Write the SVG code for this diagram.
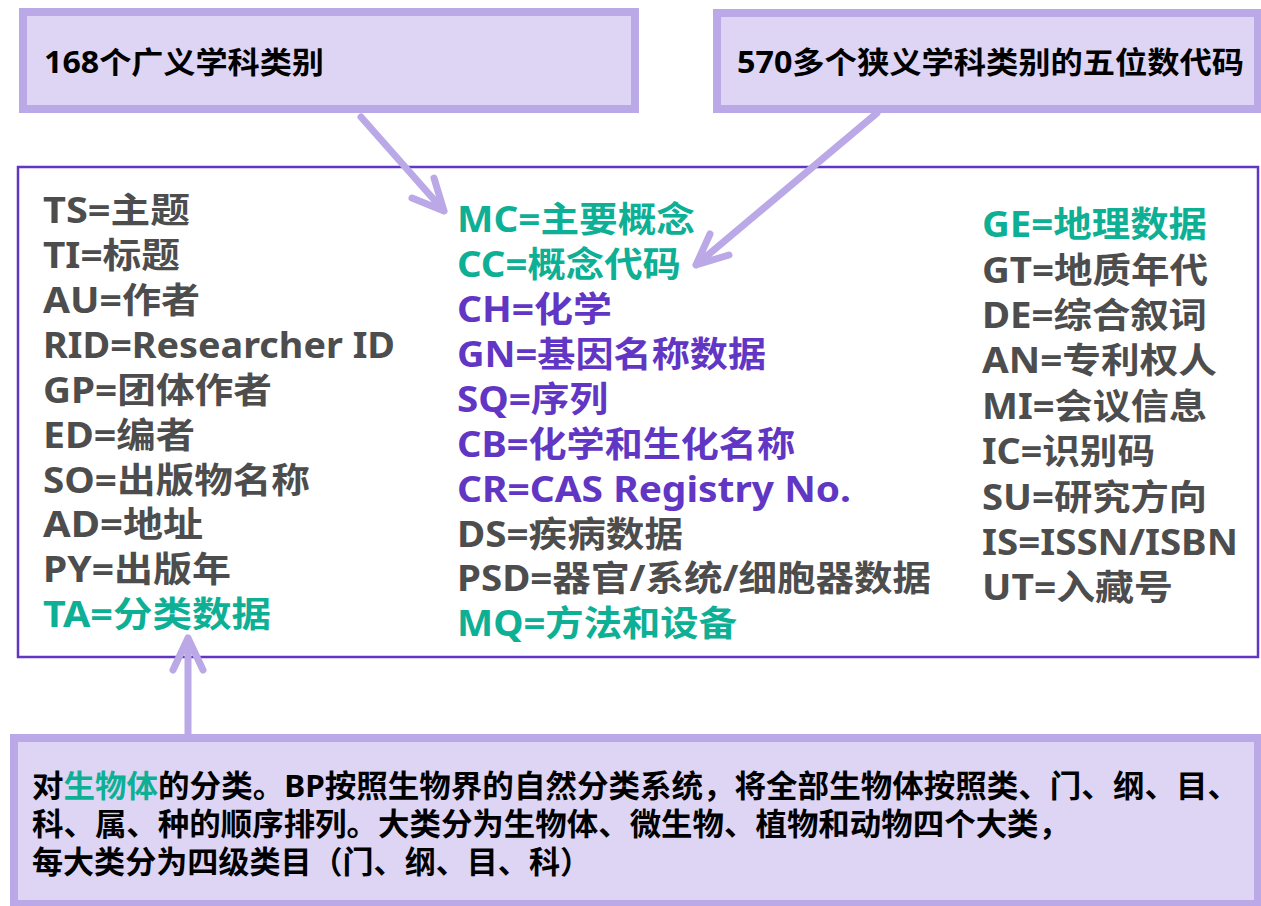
<svg xmlns="http://www.w3.org/2000/svg" width="1261" height="906" viewBox="0 0 1261 906">
<style>
.box{fill:#DDD5F3;stroke:#BBA8E6;stroke-width:8}
.main{fill:#FFFFFF;stroke:#6236C4;stroke-width:2.5}
.t{font-family:"Noto Sans","Noto Sans CJK SC",sans-serif;font-weight:bold}
.k{font-size:35px}
.g{fill:#4D4D4D}
.c{fill:#0DAF95}
.p{fill:#6236C4}
.b{font-size:30px;fill:#000000}
.d{font-size:31px;fill:#000000}
.arr{fill:none;stroke:#BBA8E6;stroke-width:7;stroke-linecap:round;stroke-linejoin:round}
</style>
<rect width="1261" height="906" fill="#FFFFFF"/>
<g id="main-box">
<rect class="main" x="18" y="167" width="1240" height="490"/>
<g id="col-left" class="t k">
<text class="g" x="43" y="223" textLength="147" lengthAdjust="spacingAndGlyphs">TS=主题</text>
<text class="g" x="43" y="268" textLength="137" lengthAdjust="spacingAndGlyphs">TI=标题</text>
<text class="g" x="43" y="313" textLength="157" lengthAdjust="spacingAndGlyphs">AU=作者</text>
<text class="g" x="43" y="358" textLength="352" lengthAdjust="spacingAndGlyphs">RID=Researcher ID</text>
<text class="g" x="43" y="403" textLength="229" lengthAdjust="spacingAndGlyphs">GP=团体作者</text>
<text class="g" x="43" y="448" textLength="152" lengthAdjust="spacingAndGlyphs">ED=编者</text>
<text class="g" x="43" y="493" textLength="267" lengthAdjust="spacingAndGlyphs">SO=出版物名称</text>
<text class="g" x="43" y="537" textLength="160" lengthAdjust="spacingAndGlyphs">AD=地址</text>
<text class="g" x="43" y="582" textLength="188" lengthAdjust="spacingAndGlyphs">PY=出版年</text>
<text class="c" x="43" y="627" textLength="228" lengthAdjust="spacingAndGlyphs">TA=分类数据</text>
</g>
<g id="col-mid" class="t k">
<text class="c" x="457" y="232" textLength="238" lengthAdjust="spacingAndGlyphs">MC=主要概念</text>
<text class="c" x="457" y="277" textLength="224" lengthAdjust="spacingAndGlyphs">CC=概念代码</text>
<text class="p" x="457" y="322" textLength="155" lengthAdjust="spacingAndGlyphs">CH=化学</text>
<text class="p" x="457" y="367" textLength="309" lengthAdjust="spacingAndGlyphs">GN=基因名称数据</text>
<text class="p" x="457" y="412" textLength="151" lengthAdjust="spacingAndGlyphs">SQ=序列</text>
<text class="p" x="457" y="457" textLength="338" lengthAdjust="spacingAndGlyphs">CB=化学和生化名称</text>
<text class="p" x="457" y="502" textLength="394" lengthAdjust="spacingAndGlyphs">CR=CAS Registry No.</text>
<text class="g" x="457" y="547" textLength="226" lengthAdjust="spacingAndGlyphs">DS=疾病数据</text>
<text class="g" x="457" y="591" textLength="474" lengthAdjust="spacingAndGlyphs">PSD=器官/系统/细胞器数据</text>
<text class="c" x="457" y="636" textLength="280" lengthAdjust="spacingAndGlyphs">MQ=方法和设备</text>
</g>
<g id="col-right" class="t k">
<text class="c" x="982" y="237" textLength="225" lengthAdjust="spacingAndGlyphs">GE=地理数据</text>
<text class="g" x="982" y="283" textLength="226" lengthAdjust="spacingAndGlyphs">GT=地质年代</text>
<text class="g" x="982" y="328" textLength="225" lengthAdjust="spacingAndGlyphs">DE=综合叙词</text>
<text class="g" x="982" y="373" textLength="235" lengthAdjust="spacingAndGlyphs">AN=专利权人</text>
<text class="g" x="982" y="419" textLength="225" lengthAdjust="spacingAndGlyphs">MI=会议信息</text>
<text class="g" x="982" y="464" textLength="173" lengthAdjust="spacingAndGlyphs">IC=识别码</text>
<text class="g" x="982" y="510" textLength="225" lengthAdjust="spacingAndGlyphs">SU=研究方向</text>
<text class="g" x="982" y="555" textLength="256" lengthAdjust="spacingAndGlyphs">IS=ISSN/ISBN</text>
<text class="g" x="982" y="600" textLength="191" lengthAdjust="spacingAndGlyphs">UT=入藏号</text>
</g>
</g>
<g id="box-broad">
<rect class="box" x="23" y="12" width="612" height="97"/>
<text class="t b" x="44" y="73" textLength="280" lengthAdjust="spacingAndGlyphs">168个广义学科类别</text>
</g>
<g id="box-narrow">
<rect class="box" x="717" y="13" width="541" height="96"/>
<text class="t b" x="737" y="73" textLength="507" lengthAdjust="spacingAndGlyphs">570多个狭义学科类别的五位数代码</text>
</g>
<g id="box-bp">
<rect class="box" x="14" y="738" width="1244" height="166"/>
<text class="t d" x="32" y="797" textLength="1207" lengthAdjust="spacingAndGlyphs">对<tspan fill="#0DAF95">生物体</tspan>的分类。BP按照生物界的自然分类系统，将全部生物体按照类、门、纲、目、</text>
<text class="t d" x="32" y="835" textLength="1038" lengthAdjust="spacingAndGlyphs">科、属、种的顺序排列。大类分为生物体、微生物、植物和动物四个大类，</text>
<text class="t d" x="32" y="873" textLength="559" lengthAdjust="spacingAndGlyphs">每大类分为四级类目（门、纲、目、科）</text>
</g>
<g id="connectors">
<path class="arr" d="M361,117 L444,211 M434,178 L444,211 L412,198"/>
<path class="arr" d="M877,113 L696,265 M710,234 L696,265 L729,255"/>
<path class="arr" d="M188,738 L188,638 M173,670 L188,638 L203,670"/>
</g>
</svg>
